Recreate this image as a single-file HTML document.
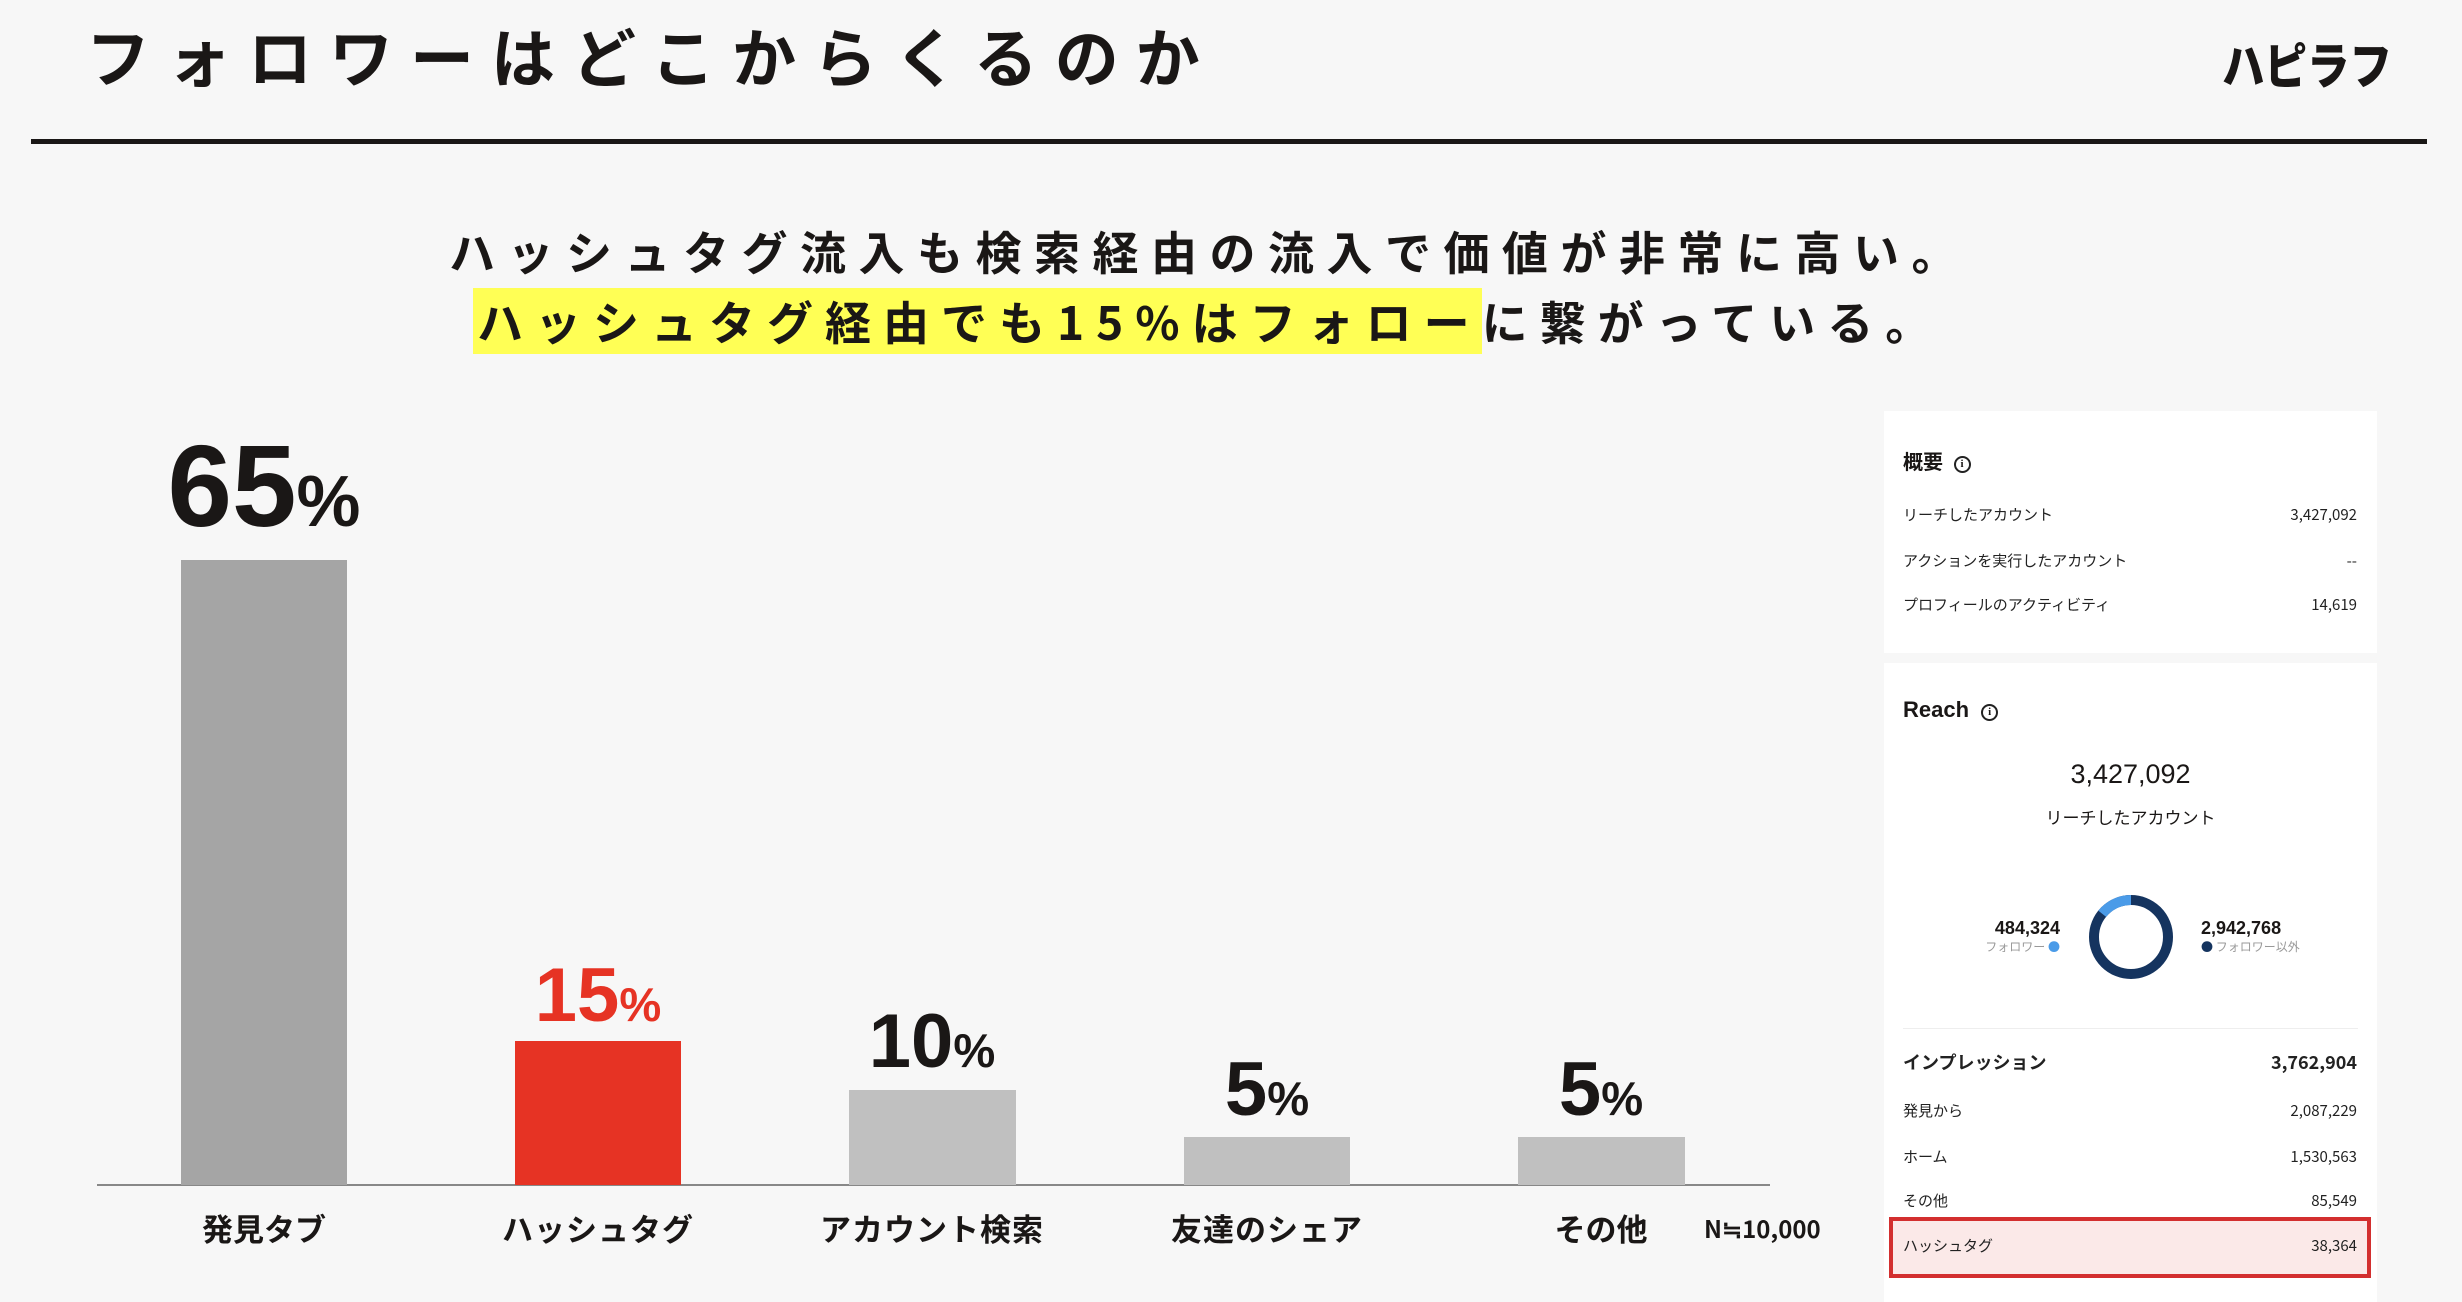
<!DOCTYPE html>
<html><head><meta charset="utf-8"><style>
*{margin:0;padding:0;box-sizing:border-box}
body{width:2462px;height:1302px;background:#f7f7f7;position:relative;overflow:hidden;font-family:"Liberation Sans","Noto Sans CJK JP",sans-serif;color:#1a1716}
.a{position:absolute;white-space:nowrap}
.jp{font-family:"Noto Sans CJK JP","Liberation Sans",sans-serif}
.bar{position:absolute}
.pct{position:absolute;font-weight:700;text-align:center;transform:translateX(-50%);line-height:1;font-family:"Liberation Sans",sans-serif}
.pct small{font-size:0.62em}
.xl{position:absolute;top:1212px;font-size:31px;font-weight:700;transform:translateX(-50%);line-height:1;white-space:nowrap}
.card{position:absolute;background:#fff;left:1884px;width:493px}
.row{position:absolute;left:19px;right:20px;font-size:15px;display:flex;justify-content:space-between;line-height:1;color:#222}
</style></head><body>
<div class="a jp" style="left:86px;top:20px;font-size:64px;font-weight:700;letter-spacing:17px;line-height:1.1">フォロワーはどこからくるのか</div>
<div class="a jp" style="left:2222px;top:36px;font-size:50px;font-weight:900;line-height:1.1;transform:scaleX(0.85);transform-origin:left">ハピラフ</div>
<div class="a" style="left:31px;top:139px;width:2396px;height:5px;background:#1a1716"></div>

<div class="a jp" style="left:449px;top:222px;font-size:46px;font-weight:700;letter-spacing:12.5px;line-height:1.3">ハッシュタグ流入も検索経由の流入で価値が非常に高い。</div>
<div class="a jp" style="left:473px;top:288px;font-size:46px;font-weight:700;letter-spacing:12px;line-height:66px"><span style="background:#ffff55;padding:0 0 0 4px;display:inline-block;height:66px">ハッシュタグ経由でも15%はフォロー</span>に繋がっている。</div>

<!-- chart -->
<div class="a" style="left:97px;top:1184px;width:1673px;height:2px;background:#888"></div>
<div class="bar" style="left:181px;top:560px;width:166px;height:625px;background:#a5a5a5"></div>
<div class="bar" style="left:515px;top:1041px;width:166px;height:144px;background:#e63324"></div>
<div class="bar" style="left:849px;top:1090px;width:167px;height:95px;background:#c0c0c0"></div>
<div class="bar" style="left:1184px;top:1137px;width:166px;height:48px;background:#c0c0c0"></div>
<div class="bar" style="left:1518px;top:1137px;width:167px;height:48px;background:#c0c0c0"></div>

<div class="pct" style="left:264px;top:428px;font-size:116px">65<small>%</small></div>
<div class="pct" style="left:598px;top:958px;font-size:76px;color:#e63324">15<small>%</small></div>
<div class="pct" style="left:932px;top:1004px;font-size:76px">10<small>%</small></div>
<div class="pct" style="left:1267px;top:1052px;font-size:76px">5<small>%</small></div>
<div class="pct" style="left:1601px;top:1052px;font-size:76px">5<small>%</small></div>

<div class="xl jp" style="left:264px">発見タブ</div>
<div class="xl jp" style="left:598px;letter-spacing:1px">ハッシュタグ</div>
<div class="xl jp" style="left:932px;letter-spacing:1px">アカウント検索</div>
<div class="xl jp" style="left:1267px;letter-spacing:1px">友達のシェア</div>
<div class="xl jp" style="left:1601px">その他</div>
<div class="a jp" style="left:1704px;top:1216px;font-size:24px;font-weight:700;line-height:1">N≒10,000</div>

<!-- card 1 -->
<div class="card" style="top:411px;height:242px">
  <div class="a jp" style="left:19px;top:40px;font-size:20px;font-weight:700;line-height:1">概要 <span style="display:inline-block;width:17px;height:17px;border:2px solid #222;border-radius:50%;font-size:11px;text-align:center;line-height:13px;vertical-align:2px;margin-left:6px;font-family:'Liberation Serif'">i</span></div>
  <div class="row jp" style="top:96px"><span>リーチしたアカウント</span><span>3,427,092</span></div>
  <div class="row jp" style="top:142px"><span>アクションを実行したアカウント</span><span>--</span></div>
  <div class="row jp" style="top:186px"><span>プロフィールのアクティビティ</span><span>14,619</span></div>
</div>
<!-- card 2 -->
<div class="card" style="top:663px;height:639px">
  <div class="a" style="left:19px;top:36px;font-size:22px;font-weight:700;line-height:1">Reach <span style="display:inline-block;width:17px;height:17px;border:2px solid #222;border-radius:50%;font-size:11px;text-align:center;line-height:13px;vertical-align:2px;margin-left:6px;font-family:'Liberation Serif'">i</span></div>
  <div class="a" style="left:0;width:493px;text-align:center;top:98px;font-size:27px;font-weight:500;line-height:1">3,427,092</div>
  <div class="a jp" style="left:0;width:493px;text-align:center;top:145px;font-size:17px;line-height:1">リーチしたアカウント</div>
  <svg class="a" style="left:197px;top:224px" width="100" height="100" viewBox="0 0 100 100">
    <circle cx="50" cy="50" r="37" fill="none" stroke="#15345f" stroke-width="10"/>
    <path d="M50 13 A37 37 0 0 0 21.2 26.8" fill="none" stroke="#4a9be8" stroke-width="10"/>
  </svg>
  <div class="a" style="right:317px;top:256px;font-size:18px;font-weight:700;line-height:1">484,324</div>
  <div class="a jp" style="right:317px;top:278px;font-size:12px;color:#999;line-height:1">フォロワー <span style="color:#4a9be8">●</span></div>
  <div class="a" style="left:317px;top:256px;font-size:18px;font-weight:700;line-height:1">2,942,768</div>
  <div class="a jp" style="left:317px;top:278px;font-size:12px;color:#999;line-height:1"><span style="color:#15345f">●</span> フォロワー以外</div>
  <div class="a" style="left:19px;top:365px;width:455px;height:1px;background:#eee"></div>
  <div class="row jp" style="top:390px;font-size:18px;font-weight:700"><span>インプレッション</span><span>3,762,904</span></div>
  <div class="row jp" style="top:440px"><span>発見から</span><span>2,087,229</span></div>
  <div class="row jp" style="top:486px"><span>ホーム</span><span>1,530,563</span></div>
  <div class="row jp" style="top:530px"><span>その他</span><span>85,549</span></div>
  <div class="a" style="left:5px;top:554px;width:482px;height:61px;border:4px solid #d32f2f;background:#fbe9e8"></div>
  <div class="row jp" style="top:575px"><span>ハッシュタグ</span><span>38,364</span></div>
</div>
</body></html>
